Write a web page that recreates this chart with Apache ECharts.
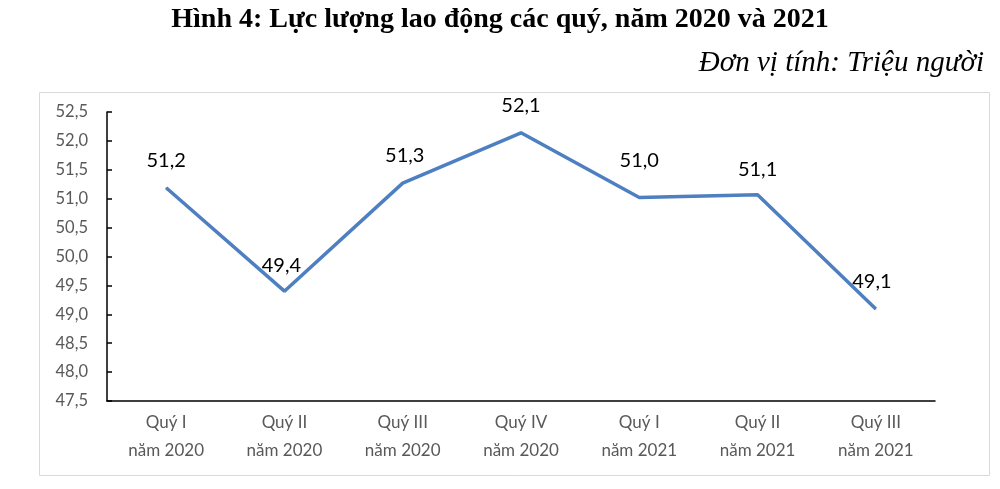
<!DOCTYPE html>
<html>
<head>
<meta charset="utf-8">
<script src="https://cdn.jsdelivr.net/npm/echarts@6/dist/echarts.min.js"></script>
<style>
html,body{margin:0;padding:0;background:#fff;}
#chart{width:1000px;height:489px;}
</style>
</head>
<body>
<div id="chart"></div>
<script>
const categories = ['Quý I\nnăm 2020','Quý II\nnăm 2020','Quý III\nnăm 2020','Quý IV\nnăm 2020','Quý I\nnăm 2021','Quý II\nnăm 2021','Quý III\nnăm 2021'];
const values = [51.19, 49.40, 51.27, 52.14, 51.02, 51.07, 49.09];
const labelShift = [[0,0],[-3,2],[2,0],[0,0],[0,-9],[0,2],[-4,0]];

const fmt = v => v.toFixed(1).replace('.', ',');

const chart = echarts.init(document.getElementById('chart'), null, {renderer:'canvas'});
chart.setOption({
  animation:false,
  backgroundColor:'#fff',
  title:[
    {text:'Hình 4: Lực lượng lao động các quý, năm 2020 và 2021', left:'center', top:1,
     textStyle:{fontFamily:'Liberation Serif', fontWeight:'bold', fontSize:28, color:'#000'}},
    {text:'Đơn vị tính: Triệu người', right:11, top:44,
     textStyle:{fontFamily:'Liberation Serif', fontStyle:'italic', fontWeight:'normal', fontSize:29, color:'#000'}}
  ],
  graphic:[{type:'rect', shape:{x:39.5,y:92.5,width:950,height:383}, style:{fill:'none', stroke:'#d9d9d9', lineWidth:1}, z:-1}],
  grid:{left:107, right:65, top:112, bottom:88},
  xAxis:{
    type:'category', data:categories, boundaryGap:true,
    axisLine:{lineStyle:{color:'#000', width:1.5}},
    axisTick:{show:false},
    axisLabel:{color:'#595959', fontSize:17, fontFamily:'Lato', lineHeight:28, margin:8}
  },
  yAxis:{
    type:'value', min:47.5, max:52.5, interval:0.5,
    splitLine:{show:false},
    axisLine:{show:true, lineStyle:{color:'#000', width:1.5}},
    axisTick:{show:true, inside:true, length:5, lineStyle:{color:'#000', width:1.5}},
    axisLabel:{color:'#595959', fontSize:16.5, fontFamily:'Lato', margin:19, formatter:v=>fmt(v)}
  },
  series:[{
    type:'line', symbol:'circle', symbolSize:1, showSymbol:true,
    itemStyle:{color:'#4E7FC0'},
    data: values.map((v,i)=>({value:v, label:{offset:labelShift[i]}})),
    lineStyle:{color:'#4E7FC0', width:3.5},
    label:{show:true, position:'top', distance:17, color:'#000', fontSize:20, fontFamily:'Lato', formatter:p=>fmt(p.value)}
  }]
});
</script>
</body>
</html>
